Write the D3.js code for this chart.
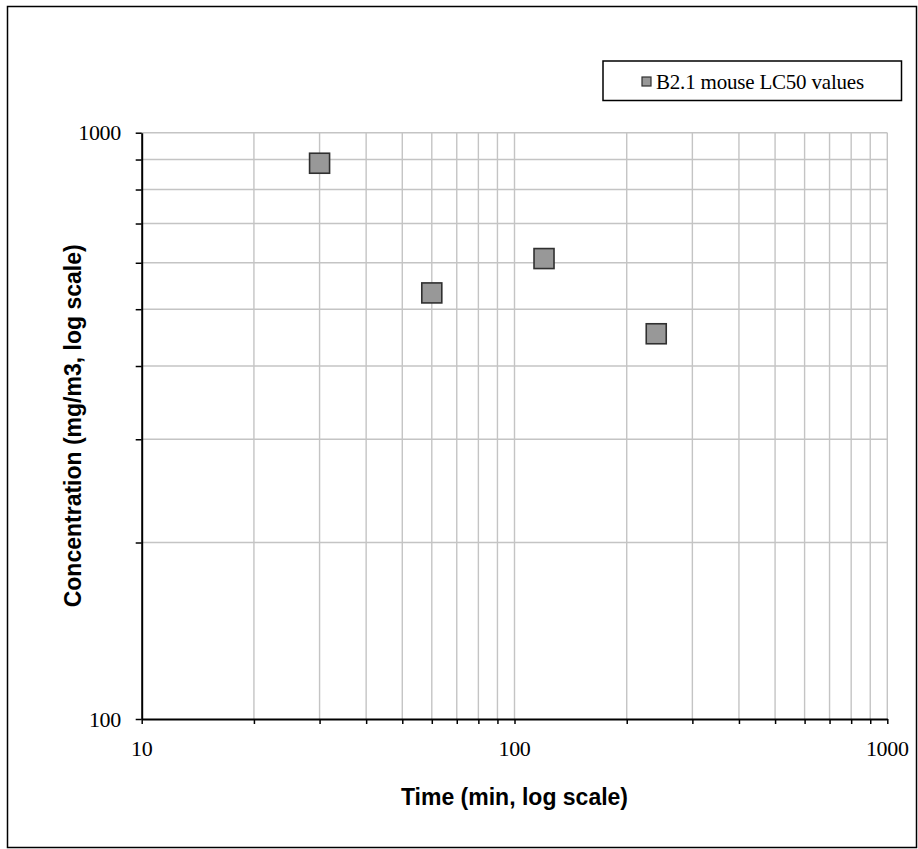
<!DOCTYPE html>
<html><head><meta charset="utf-8">
<script src="https://cdn.jsdelivr.net/npm/d3@7"></script>
<style>body{margin:0;background:#fff}svg{display:block}</style>
</head><body>
<svg id="c" width="918" height="849"></svg>
<script>
const times = [30, 60, 120, 240];
const concentrations = [887, 533, 610, 454];
const seriesName = "B2.1 mouse LC50 values";
const xTickLabels = [10, 100, 1000];
const yTickLabels = [100, 1000];
const xTitle = "Time (min, log scale)";
const yTitle = "Concentration (mg/m3, log scale)";

const svg = d3.select("#c");
const L = 141.7, R = 887.3, T = 132.7, B = 719;
const x = d3.scaleLog().domain([10, 1000]).range([L, R]);
const y = d3.scaleLog().domain([100, 1000]).range([B, T]);

svg.append("rect").attr("x", 7.5).attr("y", 6.5).attr("width", 909).attr("height", 841)
  .attr("fill", "#fff").attr("stroke", "#000").attr("stroke-width", 1.5);

const xMinor = d3.range(1, 3).flatMap(e => d3.range(1, 10).map(m => m * Math.pow(10, e))).concat([1000]);
const yMinor = d3.range(1, 10).map(m => m * 100).concat([1000]);

const grid = svg.append("g").attr("stroke", "#c4c4c4").attr("stroke-width", 1.4);
grid.selectAll(".gx").data(xMinor.filter(v => v > 10)).join("line")
  .attr("x1", d => x(d)).attr("x2", d => x(d)).attr("y1", T).attr("y2", B);
grid.selectAll(".gy").data(yMinor.filter(v => v > 100)).join("line")
  .attr("x1", L).attr("x2", R).attr("y1", d => y(d)).attr("y2", d => y(d));

const xAxis = svg.append("g").attr("transform", `translate(0,${B})`)
  .call(d3.axisBottom(x).tickValues(xMinor).tickSize(5).tickSizeOuter(0).tickFormat(""));
const yAxis = svg.append("g").attr("transform", `translate(${L},0)`)
  .call(d3.axisLeft(y).tickValues(yMinor).tickSize(6).tickSizeOuter(0).tickFormat(""));
[xAxis, yAxis].forEach(a => {
  a.select(".domain").attr("stroke", "#000").attr("stroke-width", 2);
  a.selectAll(".tick line").attr("stroke", "#000").attr("stroke-width", 1.5);
});

svg.append("g").selectAll("text").data(xTickLabels).join("text")
  .attr("x", d => x(d)).attr("y", 756).attr("text-anchor", "middle")
  .attr("font-family", "Liberation Serif, Times New Roman, serif").attr("font-size", 22)
  .attr("letter-spacing", -0.3).attr("fill", "#000").text(d => d);
svg.append("g").selectAll("text").data(yTickLabels).join("text")
  .attr("x", 121).attr("y", d => y(d) + 7.5).attr("text-anchor", "end")
  .attr("font-family", "Liberation Serif, Times New Roman, serif").attr("font-size", 22)
  .attr("letter-spacing", -0.3).attr("fill", "#000").text(d => d);

svg.append("text").attr("x", (L + R) / 2).attr("y", 805).attr("text-anchor", "middle")
  .attr("font-family", "Liberation Sans, Arial, sans-serif").attr("font-weight", "bold")
  .attr("font-size", 23).text(xTitle);
svg.append("text").attr("transform", `translate(81,${(T + B) / 2}) rotate(-90)`)
  .attr("text-anchor", "middle")
  .attr("font-family", "Liberation Sans, Arial, sans-serif").attr("font-weight", "bold")
  .attr("font-size", 23).text(yTitle);

const s = 20;
svg.append("g").selectAll("rect").data(times.map((t, i) => [t, concentrations[i]])).join("rect")
  .attr("x", d => x(d[0]) - s / 2).attr("y", d => y(d[1]) - s / 2)
  .attr("width", s).attr("height", s)
  .attr("fill", "#989898").attr("stroke", "#303030").attr("stroke-width", 1.6);

const lg = svg.append("g");
lg.append("rect").attr("x", 603).attr("y", 61).attr("width", 298.5).attr("height", 39.5)
  .attr("fill", "#fff").attr("stroke", "#000").attr("stroke-width", 1.5);
lg.append("rect").attr("x", 642).attr("y", 77).attr("width", 9).attr("height", 9)
  .attr("fill", "#989898").attr("stroke", "#303030").attr("stroke-width", 1.2);
lg.append("text").attr("x", 656).attr("y", 88.5)
  .attr("font-family", "Liberation Serif, Times New Roman, serif").attr("font-size", 21)
  .attr("letter-spacing", -0.2).text(seriesName);
</script>
</body></html>
